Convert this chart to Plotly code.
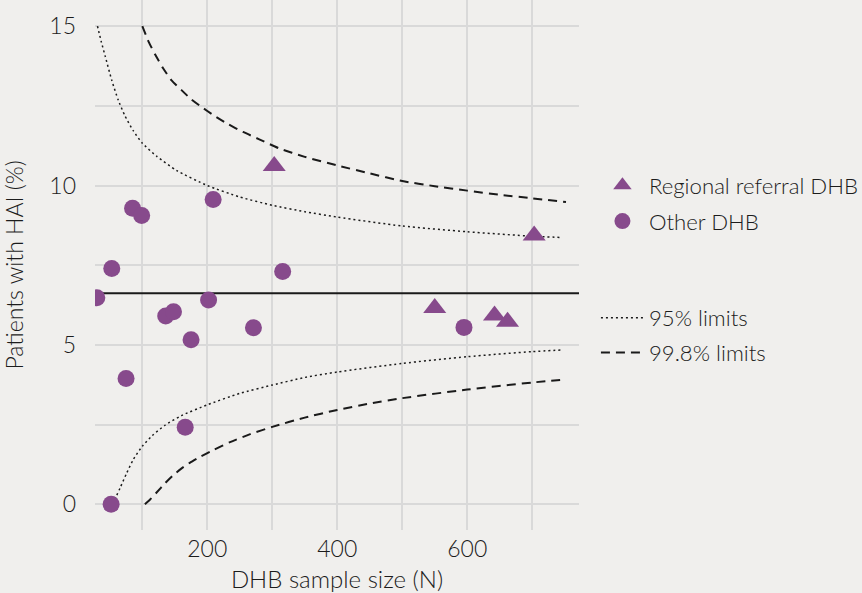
import plotly.graph_objects as go

# ---- data ----
other_n = [30, 53, 85, 99, 209, 316, 202, 136, 148, 175, 271, 75, 166, 52, 595]
other_pct = [6.48, 7.40, 9.29, 9.06, 9.56, 7.30, 6.41, 5.91, 6.04, 5.16, 5.54, 3.95, 2.42, 0.0, 5.55]

regional_n = [303, 550, 642, 662, 703]
regional_pct = [10.61, 6.16, 5.92, 5.73, 8.43]

mean_pct = 6.62

n95_upper = [31, 37, 43, 53, 63, 73, 86, 100, 122, 153, 200, 250, 300, 350, 400, 500, 600, 700, 746]
v95_upper = [15.0, 14.5, 14.05, 13.3, 12.68, 12.2, 11.72, 11.33, 10.92, 10.47, 10.0, 9.64, 9.38, 9.18, 9.01, 8.73, 8.55, 8.41, 8.37]

n95_lower = [55, 60, 66, 76, 86, 100, 115, 135, 160, 200, 250, 300, 350, 400, 500, 600, 700, 746]
v95_lower = [0.0, 0.25, 0.52, 0.98, 1.4, 1.82, 2.15, 2.48, 2.78, 3.12, 3.48, 3.74, 3.98, 4.15, 4.42, 4.63, 4.79, 4.84]

n998_upper = [100, 110, 120, 132, 145, 160, 175, 190, 210, 230, 255, 280, 310, 350, 400, 450, 500, 550, 600, 650, 700, 752]
v998_upper = [15.0, 14.5, 14.1, 13.68, 13.3, 13.0, 12.71, 12.48, 12.2, 11.95, 11.68, 11.45, 11.17, 10.9, 10.63, 10.38, 10.14, 9.98, 9.84, 9.71, 9.6, 9.48]

n998_lower = [104, 112, 122, 135, 148, 160, 173, 190, 210, 235, 266, 300, 350, 400, 450, 500, 600, 700, 752]
v998_lower = [0.0, 0.15, 0.37, 0.66, 0.92, 1.12, 1.3, 1.5, 1.71, 1.95, 2.2, 2.43, 2.72, 2.96, 3.16, 3.33, 3.6, 3.82, 3.92]

x_ticks = [200, 400, 600]
x_minor = [100, 300, 500, 700]
y_ticks = [0, 5, 10, 15]
y_minor = [2.5, 7.5, 12.5]

# ---- style ----
BG = "#f0efed"
GRID = "#d9d9d9"
PURPLE = "#874a8c"
TEXT = "#1c1c1c"
LINE = "#1a1a1a"
FONT = "Lato"

fig = go.Figure()

x_lo, x_hi = 27.2, 772.0

# mean line
fig.add_trace(go.Scatter(x=[x_lo, x_hi], y=[mean_pct, mean_pct], mode="lines",
                         line=dict(color=LINE, width=2), showlegend=False, hoverinfo="skip"))

dot_style = dict(color=LINE, width=1.5, dash="2px,3px", shape="spline", smoothing=0.6)
dash_style = dict(color=LINE, width=2, dash="9px,6px", shape="spline", smoothing=0.6)

fig.add_trace(go.Scatter(x=n95_upper, y=v95_upper, mode="lines", line=dot_style,
                         name="95% limits", legend="legend2", legendgroup="lim95"))
fig.add_trace(go.Scatter(x=n95_lower, y=v95_lower, mode="lines", line=dot_style,
                         showlegend=False, legendgroup="lim95"))
fig.add_trace(go.Scatter(x=n998_upper, y=v998_upper, mode="lines", line=dash_style,
                         name="99.8% limits", legend="legend2", legendgroup="lim998"))
fig.add_trace(go.Scatter(x=n998_lower, y=v998_lower, mode="lines", line=dash_style,
                         showlegend=False, legendgroup="lim998"))

fig.add_trace(go.Scatter(x=regional_n, y=regional_pct, mode="markers", name="Regional referral DHB",
                         marker=dict(symbol="triangle-up", size=20, color=PURPLE, line=dict(width=0)),
                         legend="legend", legendgroup="reg"))
fig.add_trace(go.Scatter(x=other_n, y=other_pct, mode="markers", name="Other DHB",
                         marker=dict(symbol="circle", size=17, color=PURPLE, line=dict(width=0)),
                         legend="legend", legendgroup="oth"))

lfont = dict(family=FONT, size=22.2, color=TEXT, weight=300)

fig.update_layout(
    width=862, height=593,
    margin=dict(l=95, r=283, t=0, b=63, autoexpand=False),
    paper_bgcolor=BG, plot_bgcolor=BG,
    font=dict(family=FONT, size=23, color=TEXT, weight=300),
    showlegend=True,
    legend=dict(x=1.035, xanchor="left", y=0.69, yanchor="top", bgcolor="rgba(0,0,0,0)",
                font=lfont, itemwidth=43, traceorder="grouped", tracegroupgap=4),
    legend2=dict(x=1.035, xanchor="left", y=0.44, yanchor="top", bgcolor="rgba(0,0,0,0)",
                 font=lfont, itemwidth=43, traceorder="grouped", tracegroupgap=3),
    xaxis=dict(range=[x_lo, x_hi], tickvals=x_ticks, ticktext=[str(v) for v in x_ticks],
               showgrid=True, gridcolor=GRID, gridwidth=1.5, zeroline=False, showline=False,
               ticks="", ticklabelstandoff=3, tickfont=dict(size=23), automargin=False,
               minor=dict(tickvals=x_minor, showgrid=True, gridcolor=GRID, gridwidth=1.5),
               title=dict(text="DHB sample size (N)", standoff=12, font=dict(size=24))),
    yaxis=dict(range=[-0.806, 15.82], tickvals=y_ticks, ticktext=[str(v) for v in y_ticks],
               showgrid=True, gridcolor=GRID, gridwidth=1.5, zeroline=False, showline=False,
               ticks="", ticklabelstandoff=18, tickfont=dict(size=23), automargin=False,
               minor=dict(tickvals=y_minor, showgrid=True, gridcolor=GRID, gridwidth=1.5),
               title=dict(text="Patients with HAI (%)", standoff=20, font=dict(size=23))),
)

fig.write_html("out.html", config={"displayModeBar": False},
               post_script="document.body.style.margin='0';document.body.style.background='#f0efed';")
